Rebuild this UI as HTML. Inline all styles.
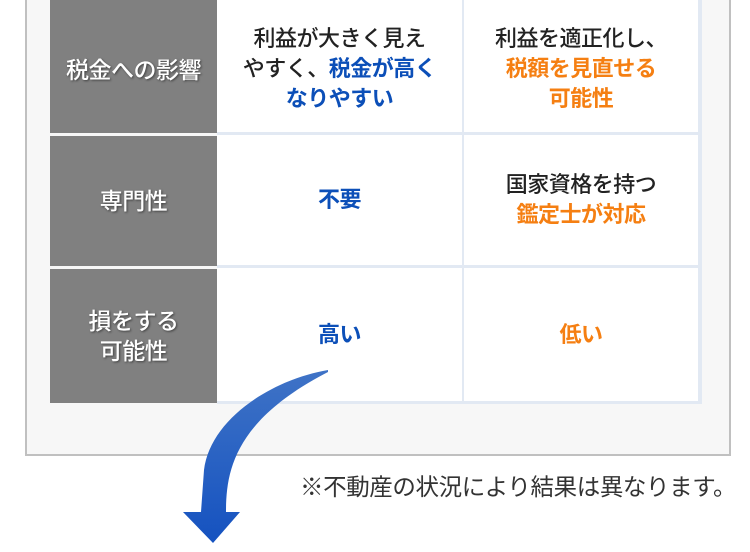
<!DOCTYPE html>
<html><head><meta charset="utf-8"><style>
body{margin:0;width:750px;height:552px;background:#fff;position:relative;overflow:hidden;font-family:"Liberation Sans","Noto Sans CJK JP",sans-serif;}
.box{position:absolute;left:25px;top:-5px;width:702px;height:459px;background:#f7f7f7;border:2px solid #c0c0c0;border-top:none;}
.c{position:absolute;display:flex;align-items:center;justify-content:center;text-align:center;font-size:22px;line-height:30px;color:#222;font-weight:500;background:#fff;letter-spacing:-0.5px;white-space:nowrap;}
.h{background:#808080;color:#fff;text-shadow:1px 1px 2px rgba(0,0,0,.5);font-size:23px;}
.b{color:#0c4fb8;font-weight:bold}
.o{color:#f57f12;font-weight:bold}
.grid{position:absolute;left:217px;top:0;width:485px;height:404px;background:#e2e9f3;}
</style></head><body>
<div class="box"></div>
<div class="grid"></div>
<div class="c h" style="left:50px;top:0;width:167px;height:133px"><div style="margin-top:6px">税金への影響</div></div>
<div class="c" style="left:217px;top:0;width:245px;height:132px"><div style="margin-top:6px">利益が大きく見え<br>やすく、<span class="b">税金が高く<br>なりやすい</span></div></div>
<div class="c" style="left:464px;top:0;width:234px;height:132px"><div style="margin-top:6px">利益を適正化し、<br><span class="o">税額を見直せる<br>可能性</span></div></div>
<div class="c h" style="left:50px;top:136px;width:167px;height:130px">専門性</div>
<div class="c" style="left:217px;top:135px;width:245px;height:130px"><span class="b">不要</span></div>
<div class="c" style="left:464px;top:135px;width:234px;height:130px"><div>国家資格を持つ<br><span class="o">鑑定士が対応</span></div></div>
<div class="c h" style="left:50px;top:269px;width:167px;height:134px"><div>損をする<br>可能性</div></div>
<div class="c" style="left:217px;top:268px;width:245px;height:133px"><span class="b">高い</span></div>
<div class="c" style="left:464px;top:268px;width:234px;height:133px"><span class="o">低い</span></div>
<div style="position:absolute;left:300px;top:472px;font-size:23.5px;letter-spacing:-0.4px;color:#333;white-space:nowrap;line-height:30px">※不動産の状況により結果は異なります。</div>
<svg style="position:absolute;left:0;top:0" width="750" height="552">
<defs><linearGradient id="g" x1="0" y1="0" x2="0" y2="1"><stop offset="0" stop-color="#3f73c6"/><stop offset="1" stop-color="#1552c0"/></linearGradient></defs>
<path d="M328,370 C270,380 210,420 204,470 L201,512 L183,512 L213,543 L240,512 L226,512 C226,470 235,420 328,372 Z" fill="url(#g)"/>
</svg>
</body></html>
